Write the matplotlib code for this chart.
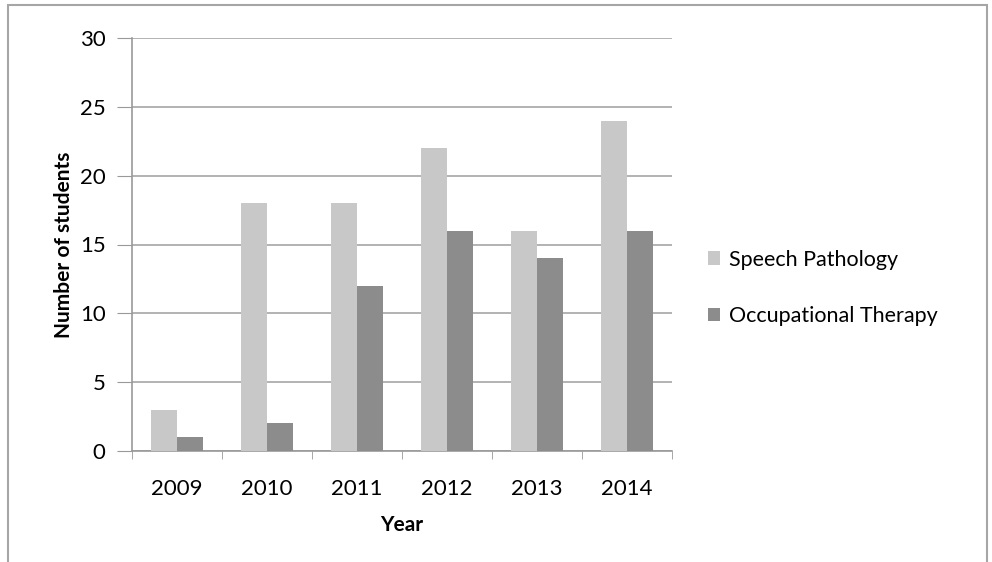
import numpy as np
import matplotlib
matplotlib.use('Agg')
import matplotlib.pyplot as plt
import matplotlib.patches as mpatches

years = ['2009', '2010', '2011', '2012', '2013', '2014']
speech = [3, 18, 18, 22, 16, 24]
occup = [1, 2, 12, 16, 14, 16]

plt.rcParams['font.family'] = ['Lato', 'DejaVu Sans']

W, H = 992, 562
fig = plt.figure(figsize=(W / 100, H / 100), dpi=100)
ax = fig.add_axes([132 / W, 1 - 451 / H, 540 / W, (451 - 38) / H])

# outer frame (bottom edge runs off the image)
fig.patches.append(mpatches.Rectangle((8 / W, -0.05), 979 / W, 1 - 5 / H + 0.05,
                                      transform=fig.transFigure, fill=False,
                                      edgecolor='#a6a6a6', linewidth=1.5))

x = np.arange(len(years))
bw = 0.29
ax.bar(x - bw / 2, speech, bw, color='#c8c8c8', label='Speech Pathology', zorder=3)
ax.bar(x + bw / 2, occup, bw, color='#8c8c8c', label='Occupational Therapy', zorder=3)

ax.set_xlim(-0.5, len(years) - 0.5)
ax.set_ylim(0, 30)
ax.set_yticks(range(0, 31, 5))
ax.set_xticks(x)
ax.set_xticklabels(years)
ax.set_xticks(np.arange(-0.5, len(years)), minor=True)
ax.tick_params(axis='x', which='major', length=0, pad=20, labelsize=16)
ax.tick_params(axis='x', which='minor', length=6, color='#999999')
ax.tick_params(axis='y', length=11, color='#999999', pad=8, labelsize=16)
ax.grid(axis='y', color='#a6a6a6', linewidth=1.2, zorder=0)

for s in ['top', 'right']:
    ax.spines[s].set_visible(False)
for s in ['left', 'bottom']:
    ax.spines[s].set_color('#999999')
    ax.spines[s].set_linewidth(1.2)

ax.set_ylabel('Number of students', fontsize=15, fontweight='bold', labelpad=4)
ax.set_xlabel('Year', fontsize=15, fontweight='bold', labelpad=12)

ax.legend(loc='center left', bbox_to_anchor=(1.03, 0.395), frameon=False,
          fontsize=15.5, handlelength=0.6, handleheight=0.6, handletextpad=0.4,
          labelspacing=1.7)

fig.savefig('out.png', dpi=100)
